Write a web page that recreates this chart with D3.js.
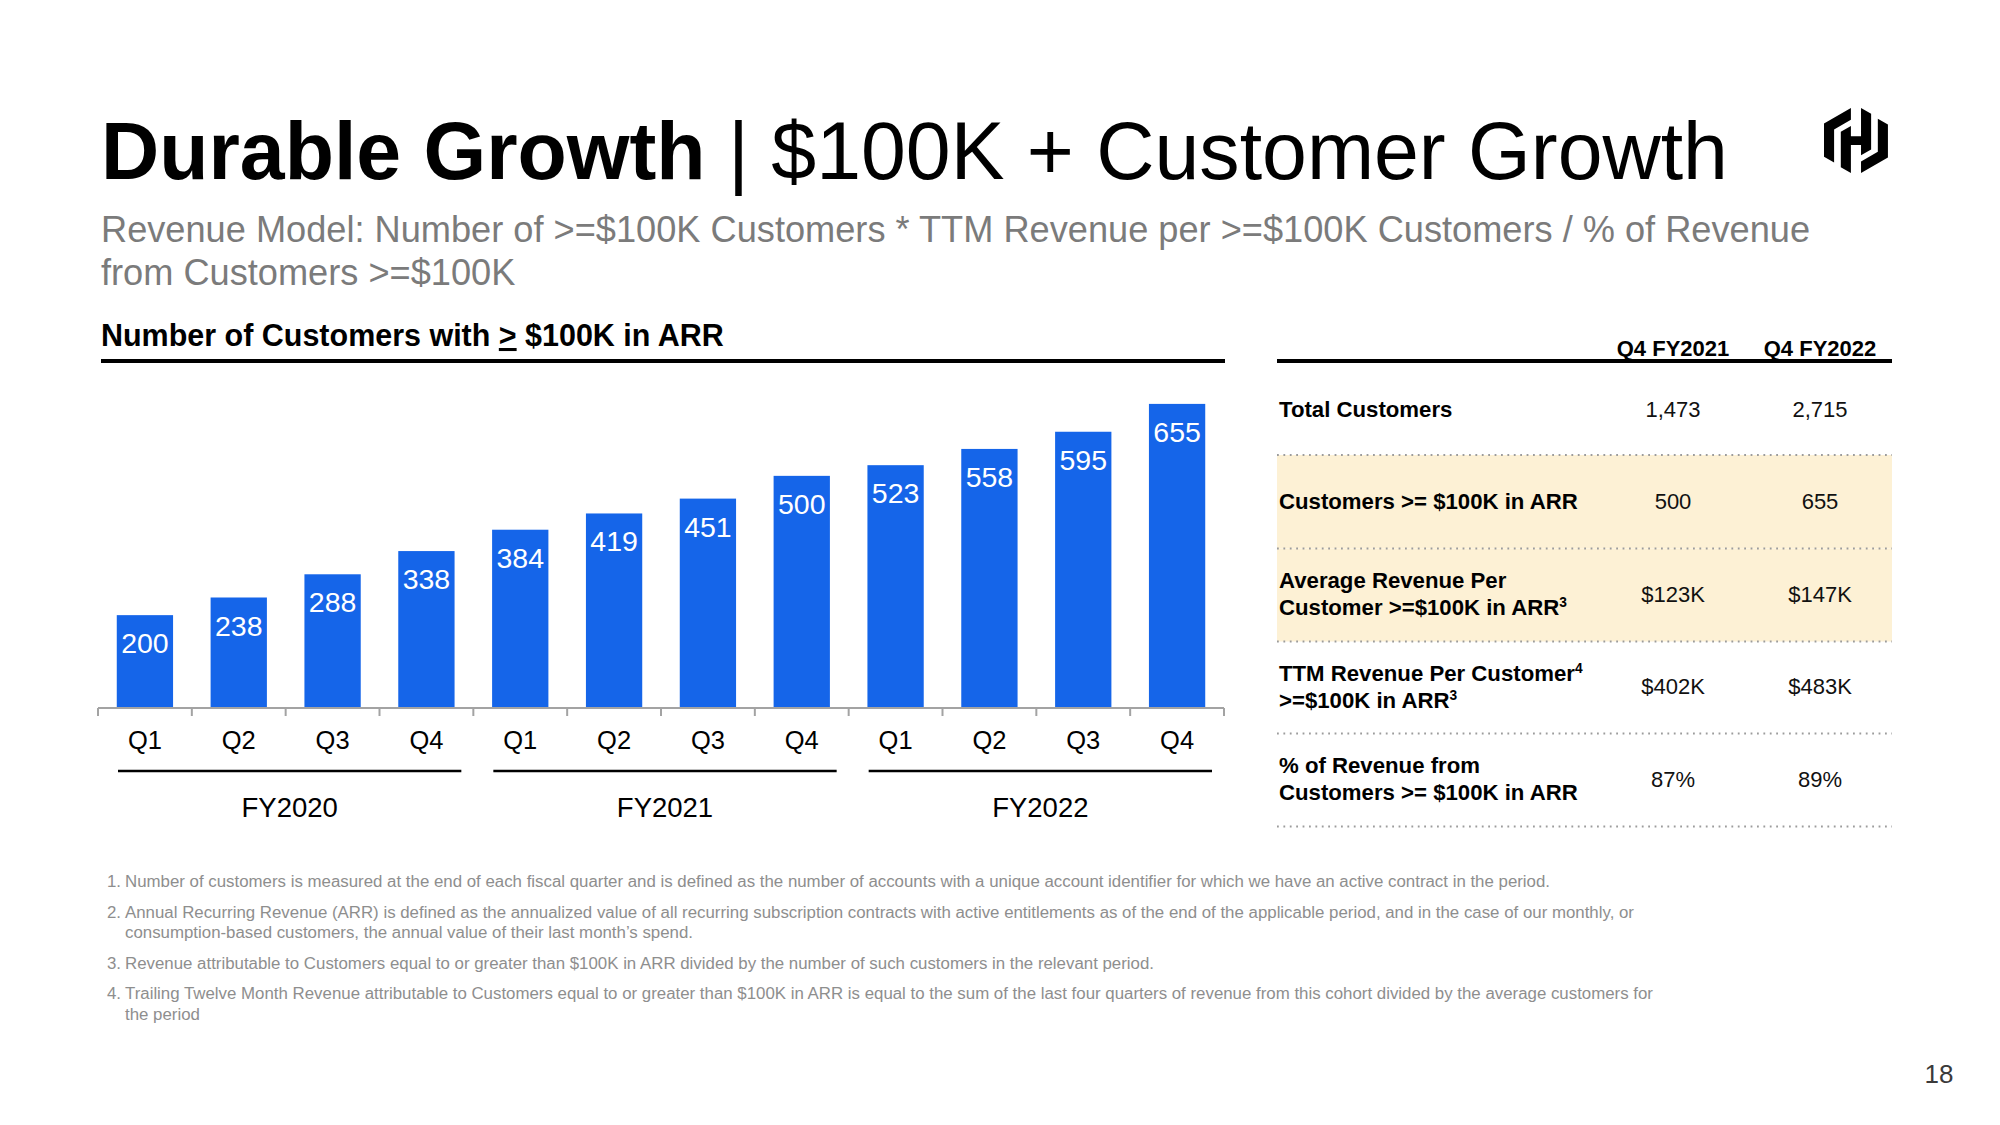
<!DOCTYPE html>
<html><head><meta charset="utf-8">
<script src="https://cdn.jsdelivr.net/npm/d3@7"></script>
<style>
html,body{margin:0;padding:0;background:#fff;}
svg{display:block;font-family:"Liberation Sans",Arial,Helvetica,sans-serif;}
</style></head><body>
<svg id="c" width="2000" height="1125"></svg>
<script>
// ---------- data ----------
const quarters = ["Q1","Q2","Q3","Q4","Q1","Q2","Q3","Q4","Q1","Q2","Q3","Q4"];
const quarterYears = ["FY2020","FY2020","FY2020","FY2020","FY2021","FY2021","FY2021","FY2021","FY2022","FY2022","FY2022","FY2022"];
const fiscalYears = ["FY2020","FY2021","FY2022"];
const customers100k = [200,238,288,338,384,419,451,500,523,558,595,655];

const tableColumns = ["Q4 FY2021","Q4 FY2022"];
const tableRowLabels = [
  [[{t:"Total Customers"}]],
  [[{t:"Customers >= $100K in ARR"}]],
  [[{t:"Average Revenue Per"}],[{t:"Customer >=$100K in ARR"},{t:"3",sup:true}]],
  [[{t:"TTM Revenue Per Customer"},{t:"4",sup:true}],[{t:">=$100K in ARR"},{t:"3",sup:true}]],
  [[{t:"% of Revenue from"}],[{t:"Customers >= $100K in ARR"}]]
];
const valuesFY2021 = ["1,473","500","$123K","$402K","87%"];
const valuesFY2022 = ["2,715","655","$147K","$483K","89%"];
const highlightedRows = [false,true,true,false,false];

const footnotes = [
  ["1.","Number of customers is measured at the end of each fiscal quarter and is defined as the number of accounts with a unique account identifier for which we have an active contract in the period."],
  ["2.","Annual Recurring Revenue (ARR) is defined as the annualized value of all recurring subscription contracts with active entitlements as of the end of the applicable period, and in the case of our monthly, or"],
  ["","consumption-based customers, the annual value of their last month\u2019s spend."],
  ["3.","Revenue attributable to Customers equal to or greater than $100K in ARR divided by the number of such customers in the relevant period."],
  ["4.","Trailing Twelve Month Revenue attributable to Customers equal to or greater than $100K in ARR is equal to the sum of the last four quarters of revenue from this cohort divided by the average customers for"],
  ["","the period"]
];

// ---------- helpers ----------
const svg = d3.select("#c");
function fit(sel, target){
  const w = sel.node().getComputedTextLength();
  const fs = parseFloat(sel.attr("font-size"));
  const nf = fs*target/w;
  sel.attr("font-size", nf);
  return nf;
}

svg.append("rect").attr("width",2000).attr("height",1125).attr("fill","#fff");

// ---------- title ----------
const title = svg.append("text").attr("x",101).attr("y",179).attr("font-size",80).attr("fill","#000");
title.append("tspan").attr("font-weight","bold").text("Durable Growth");
title.append("tspan").text(" | $100K + Customer Growth");
fit(title, 1627);

const sub1 = svg.append("text").attr("x",101).attr("y",242).attr("font-size",35).attr("fill","#7b7b7b")
  .text("Revenue Model: Number of >=$100K Customers * TTM Revenue per >=$100K Customers / % of Revenue");
const subFs = fit(sub1, 1710);
svg.append("text").attr("x",101).attr("y",285).attr("font-size",subFs).attr("fill","#7b7b7b")
  .text("from Customers >=$100K");

// logo
const logo = svg.append("g").attr("transform","translate(1824,108) scale(0.25)").attr("fill","#000");
logo.append("path").attr("d","M107.6 0L0 62.2V194.5L40.4 217.8V85.5L107.6 46.7Z");
logo.append("path").attr("d","M67.2 94.8L107.6 71.5V112.6H148.1V0L188.5 23.4V165.5L148.1 188.8V147.7H107.6V260.3L67.2 236.9Z");
logo.append("path").attr("d","M148.1 260.3L255.7 198.1V65.8L215.3 42.5V174.8L148.1 213.6Z");

// ---------- section header ----------
const sec = svg.append("text").attr("x",101).attr("y",346).attr("font-size",29).attr("font-weight","bold").attr("fill","#000");
sec.append("tspan").text("Number of Customers with ");
sec.append("tspan").attr("text-decoration","underline").text(">");
sec.append("tspan").text(" $100K in ARR");
fit(sec, 623);
svg.append("line").attr("x1",101).attr("x2",1225).attr("y1",361).attr("y2",361).attr("stroke","#000").attr("stroke-width",4);

// ---------- bar chart ----------
const keys = quarters.map((q,i)=>quarterYears[i]+" "+q);
const x = d3.scaleBand().domain(keys).range([98,1224]).paddingInner(0).paddingOuter(0);
const y = d3.scaleLinear().domain([0,700]).range([708,383]);
const bw = x.bandwidth();
const barW = bw*0.6;

svg.append("g").selectAll("rect").data(customers100k).join("rect")
  .attr("x",(d,i)=>x(keys[i])+(bw-barW)/2)
  .attr("width",barW)
  .attr("y",d=>y(d))
  .attr("height",d=>y(0)-y(d))
  .attr("fill","#1565E9");

svg.append("g").selectAll("text").data(customers100k).join("text")
  .attr("x",(d,i)=>x(keys[i])+bw/2)
  .attr("y",d=>y(d)+38)
  .attr("text-anchor","middle").attr("font-size",28.5).attr("fill","#fff")
  .text(d=>d);

// axis
const axis = svg.append("g").attr("stroke","#a3a3a3").attr("stroke-width",2);
axis.append("line").attr("x1",x.range()[0]).attr("x2",x.range()[1]).attr("y1",y(0)).attr("y2",y(0));
const tickXs = keys.map(k=>x(k)).concat([x.range()[1]]);
axis.selectAll("line.t").data(tickXs).join("line").attr("class","t")
  .attr("x1",d=>d).attr("x2",d=>d).attr("y1",y(0)).attr("y2",y(0)+8);

svg.append("g").selectAll("text").data(quarters).join("text")
  .attr("x",(d,i)=>x(keys[i])+bw/2).attr("y",749)
  .attr("text-anchor","middle").attr("font-size",25.5).attr("fill","#000")
  .text(d=>d);

// fiscal year groups
fiscalYears.forEach(fy=>{
  const ks = keys.filter((k,i)=>quarterYears[i]===fy);
  const x0 = x(ks[0]) + 20, x1 = x(ks[ks.length-1]) + bw - 12;
  svg.append("line").attr("x1",x0).attr("x2",x1).attr("y1",771).attr("y2",771).attr("stroke","#000").attr("stroke-width",2.5);
  svg.append("text").attr("x",(x(ks[0])+x(ks[ks.length-1])+bw)/2 + 4).attr("y",817)
    .attr("text-anchor","middle").attr("font-size",27.5).attr("fill","#000").text(fy);
});

// ---------- table ----------
const tX0 = 1277, tX1 = 1892;
const colX = [1673, 1820];
const dotYs = [455, 548.5, 641.5, 733.5, 826.5];
const rowTop = [361, 455, 548.5, 641.5, 733.5];
highlightedRows.forEach((h,i)=>{
  if(h) svg.append("rect").attr("x",tX0).attr("width",tX1-tX0).attr("y",rowTop[i]).attr("height",dotYs[i]-rowTop[i]).attr("fill","#FDF1D5");
});
tableColumns.forEach((c,i)=>{
  svg.append("text").attr("x",colX[i]).attr("y",356).attr("text-anchor","middle").attr("font-size",22).attr("font-weight","bold").attr("fill","#000").text(c);
});
svg.append("line").attr("x1",tX0).attr("x2",tX1).attr("y1",361).attr("y2",361).attr("stroke","#000").attr("stroke-width",4);
dotYs.forEach(yy=>{
  svg.append("line").attr("x1",tX0).attr("x2",tX1).attr("y1",yy).attr("y2",yy)
    .attr("stroke","#9c9c9c").attr("stroke-width",1.8).attr("stroke-dasharray","1.8 4.6");
});
const labelBaselines = [[417],[509],[588,615],[681,708],[773,800]];
const valueBaselines = [417,509,602,694,787];
const probe = svg.append("text").attr("font-size",21).attr("font-weight","bold").text("Customers >= $100K in ARR");
const lblFs = fit(probe, 299); probe.remove();
tableRowLabels.forEach((lines,i)=>{
  lines.forEach((segs,j)=>{
    const t = svg.append("text").attr("x",1279).attr("y",labelBaselines[i][j]).attr("font-size",lblFs).attr("font-weight","bold").attr("fill","#000");
    segs.forEach(s=>{
      if(s.sup){
        t.append("tspan").attr("font-size",lblFs*0.62).attr("dy",-8).text(s.t);
      } else t.append("tspan").text(s.t);
    });
  });
  [valuesFY2021[i], valuesFY2022[i]].forEach((v,k)=>{
    svg.append("text").attr("x",colX[k]).attr("y",valueBaselines[i]).attr("text-anchor","middle").attr("font-size",22).attr("fill","#111").text(v);
  });
});

// ---------- footnotes ----------
const fnBaselines = [887, 918, 938, 969, 999, 1020];
const fn0 = svg.append("text").attr("x",125).attr("y",fnBaselines[0]).attr("font-size",16.5).attr("fill","#8e8e8e")
  .text(footnotes[0][1]);
const fnFs = fit(fn0, 1426); fn0.remove();
footnotes.forEach((f,i)=>{
  if(f[0]) svg.append("text").attr("x",107).attr("y",fnBaselines[i]).attr("font-size",fnFs).attr("fill","#8e8e8e").text(f[0]);
  svg.append("text").attr("x",125).attr("y",fnBaselines[i]).attr("font-size",fnFs).attr("fill","#8e8e8e").text(f[1]);
});

// page number
svg.append("text").attr("x",1939).attr("y",1083).attr("text-anchor","middle").attr("font-size",26).attr("fill","#3a3a3a").text("18");
</script>
</body></html>
